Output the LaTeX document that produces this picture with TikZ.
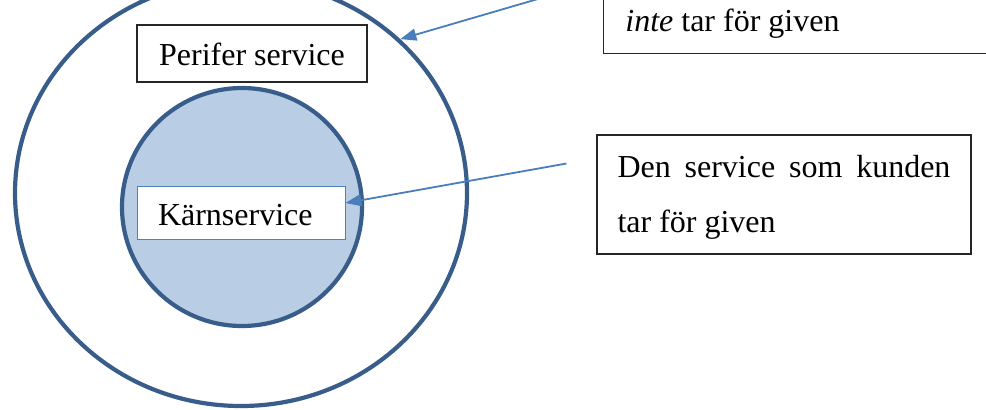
\documentclass[tikz,border=0pt]{standalone}
\usepackage{fontspec}
\setmainfont{Liberation Serif}
\usetikzlibrary{arrows.meta,calc,shapes.geometric}

\definecolor{ringblue}{RGB}{56,93,138}
\definecolor{coreblue}{RGB}{185,205,229}
\definecolor{arrowblue}{RGB}{74,126,187}
\definecolor{edgeblue}{RGB}{79,129,189}

\begin{document}
\begin{tikzpicture}[
  x=0.5pt, y=-0.5pt,
  font=\fontsize{16}{27.5}\selectfont,
  ring/.style={ellipse, draw=ringblue, line width=2.1pt, inner sep=0pt},
  blk/.style={draw=black!85, line width=0.55pt, fill=white, inner ysep=0pt},
  callout/.style={-{Triangle[length=8pt, width=6pt]}, draw=arrowblue, line width=0.9pt},
]

% ---------------- frame (the page is cut like the reference) ----------------
\useasboundingbox (0,0) rectangle (986,409);
\clip (0,0) rectangle (986,409);

% ---------------- rings ----------------
\node[ring, minimum width=226pt, minimum height=213pt] (outer) at (241,193) {};
\node[ring, fill=coreblue, minimum width=120pt, minimum height=119pt] (inner) at (242,207) {};

% ---------------- labels inside the rings ----------------
\node[blk, minimum width=115pt, minimum height=28.5pt, text height=11.5pt, text depth=0pt]
  (perifer) at (252,53.5) {Perifer service};
\node[blk, draw=edgeblue, line width=0.5pt, text width=83pt, inner xsep=10.5pt,
      minimum height=26.5pt, text height=12.5pt, text depth=0pt, align=left]
  (karn) at (241,212.5) {Kärnservice};

% ---------------- text boxes on the right ----------------
\node[blk, anchor=south west, minimum width=220pt, minimum height=60pt] (notgiven) at (603,54) {};
\node[anchor=base west, inner sep=0pt] (intetext) at (625,31) {\textit{inte} tar för given};

\node[blk, text width=166.5pt, inner xsep=10.25pt, minimum height=59.5pt, align=justify]
  (given) at (784,194.5) {\noindent\rule{0pt}{14pt}Den service som kunden tar för given};

% ---------------- callout arrows ----------------
\coordinate (tail1) at ($(notgiven.south west)+(0,-74)$);
\coordinate (tail2) at ($(given.west)+(-30,-31)$);
\draw[callout] (tail1) -- (outer.44);
\draw[callout] (tail2) -- ($(karn.east)+(0,-9.5)$);

\end{tikzpicture}
\end{document}
